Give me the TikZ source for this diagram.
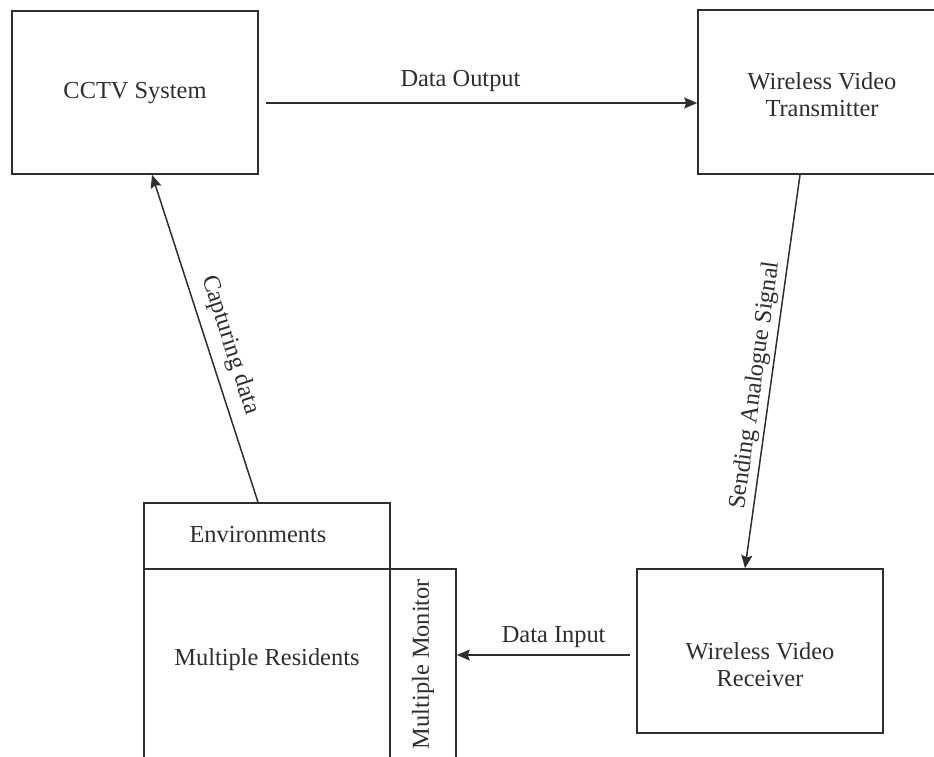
\documentclass[tikz,border=0pt]{standalone}
\usepackage{fontspec}
\setmainfont{Liberation Serif}
\usetikzlibrary{arrows.meta,calc}
\definecolor{ink}{HTML}{2E2E2E}
\begin{document}
\begin{tikzpicture}[x=1pt,y=-1pt,
  box/.style={draw=ink, line width=1.6pt, rectangle, inner sep=0pt},
  txt/.style={text=ink, font=\fontsize{24.4}{27}\selectfont, align=center, inner sep=0pt},
  arr/.style={draw=ink, line width=1.5pt, -{Stealth[length=13pt,width=11pt,inset=2pt]}},
  lab/.style={text=ink, font=\fontsize{24.4}{27}\selectfont, inner sep=2pt}]
\useasboundingbox (0,0) rectangle (934,756);
\clip (0,0) rectangle (934,756);

% blocks
\node[box, minimum width=246pt, minimum height=163pt] (cctv) at (135,92.5) {};
\node[txt] (cctvT) at (135,93) {CCTV System};

\node[box, minimum width=248pt, minimum height=164pt] (tx) at (822,92) {};
\node[txt] (txT) at (822,95) {Wireless Video\\Transmitter};

\node[box, minimum width=246pt, minimum height=164pt] (rx) at (760,651) {};
\node[txt] (rxT) at (760,665) {Wireless Video\\Receiver};

\node[box, minimum width=246pt, minimum height=66pt] (env) at (267,536) {};
\node[txt] (envT) at (258,535) {Environments};

\node[box, minimum width=246pt, minimum height=191pt] (res) at (267,664.5) {};
\node[txt] (resT) at (267,660) {Multiple Residents};

\node[box, minimum width=66pt, minimum height=191pt] (mon) at (423,664.5) {};
\node[txt, rotate=90] (monT) at (423,664) {Multiple Monitor};

% connector guides
\coordinate (doY) at (0,103);
\coordinate (diY) at (0,655);
\coordinate (saX) at (800,0);
\coordinate (sbX) at (745,0);
\coordinate (caX) at (258,0);
\coordinate (cbX) at (152,0);

% connectors
\draw[arr, shorten <=7pt] (cctv.east |- doY) --
  node[lab, pos=0.46, above=9pt] {Data Output} (tx.west |- doY);
\draw[arr] (tx.south -| saX) --
  node[lab, pos=0.54, sloped, above=1pt] {Sending Analogue Signal} (rx.north -| sbX);
\draw[arr, shorten <=6pt] (rx.west |- diY) --
  node[lab, pos=0.46, above=5pt] {Data Input} (mon.east |- diY);
\draw[arr] (env.north -| caX) --
  node[lab, pos=0.46, sloped, above=8pt] {Capturing data} (cctv.south -| cbX);
\end{tikzpicture}
\end{document}
